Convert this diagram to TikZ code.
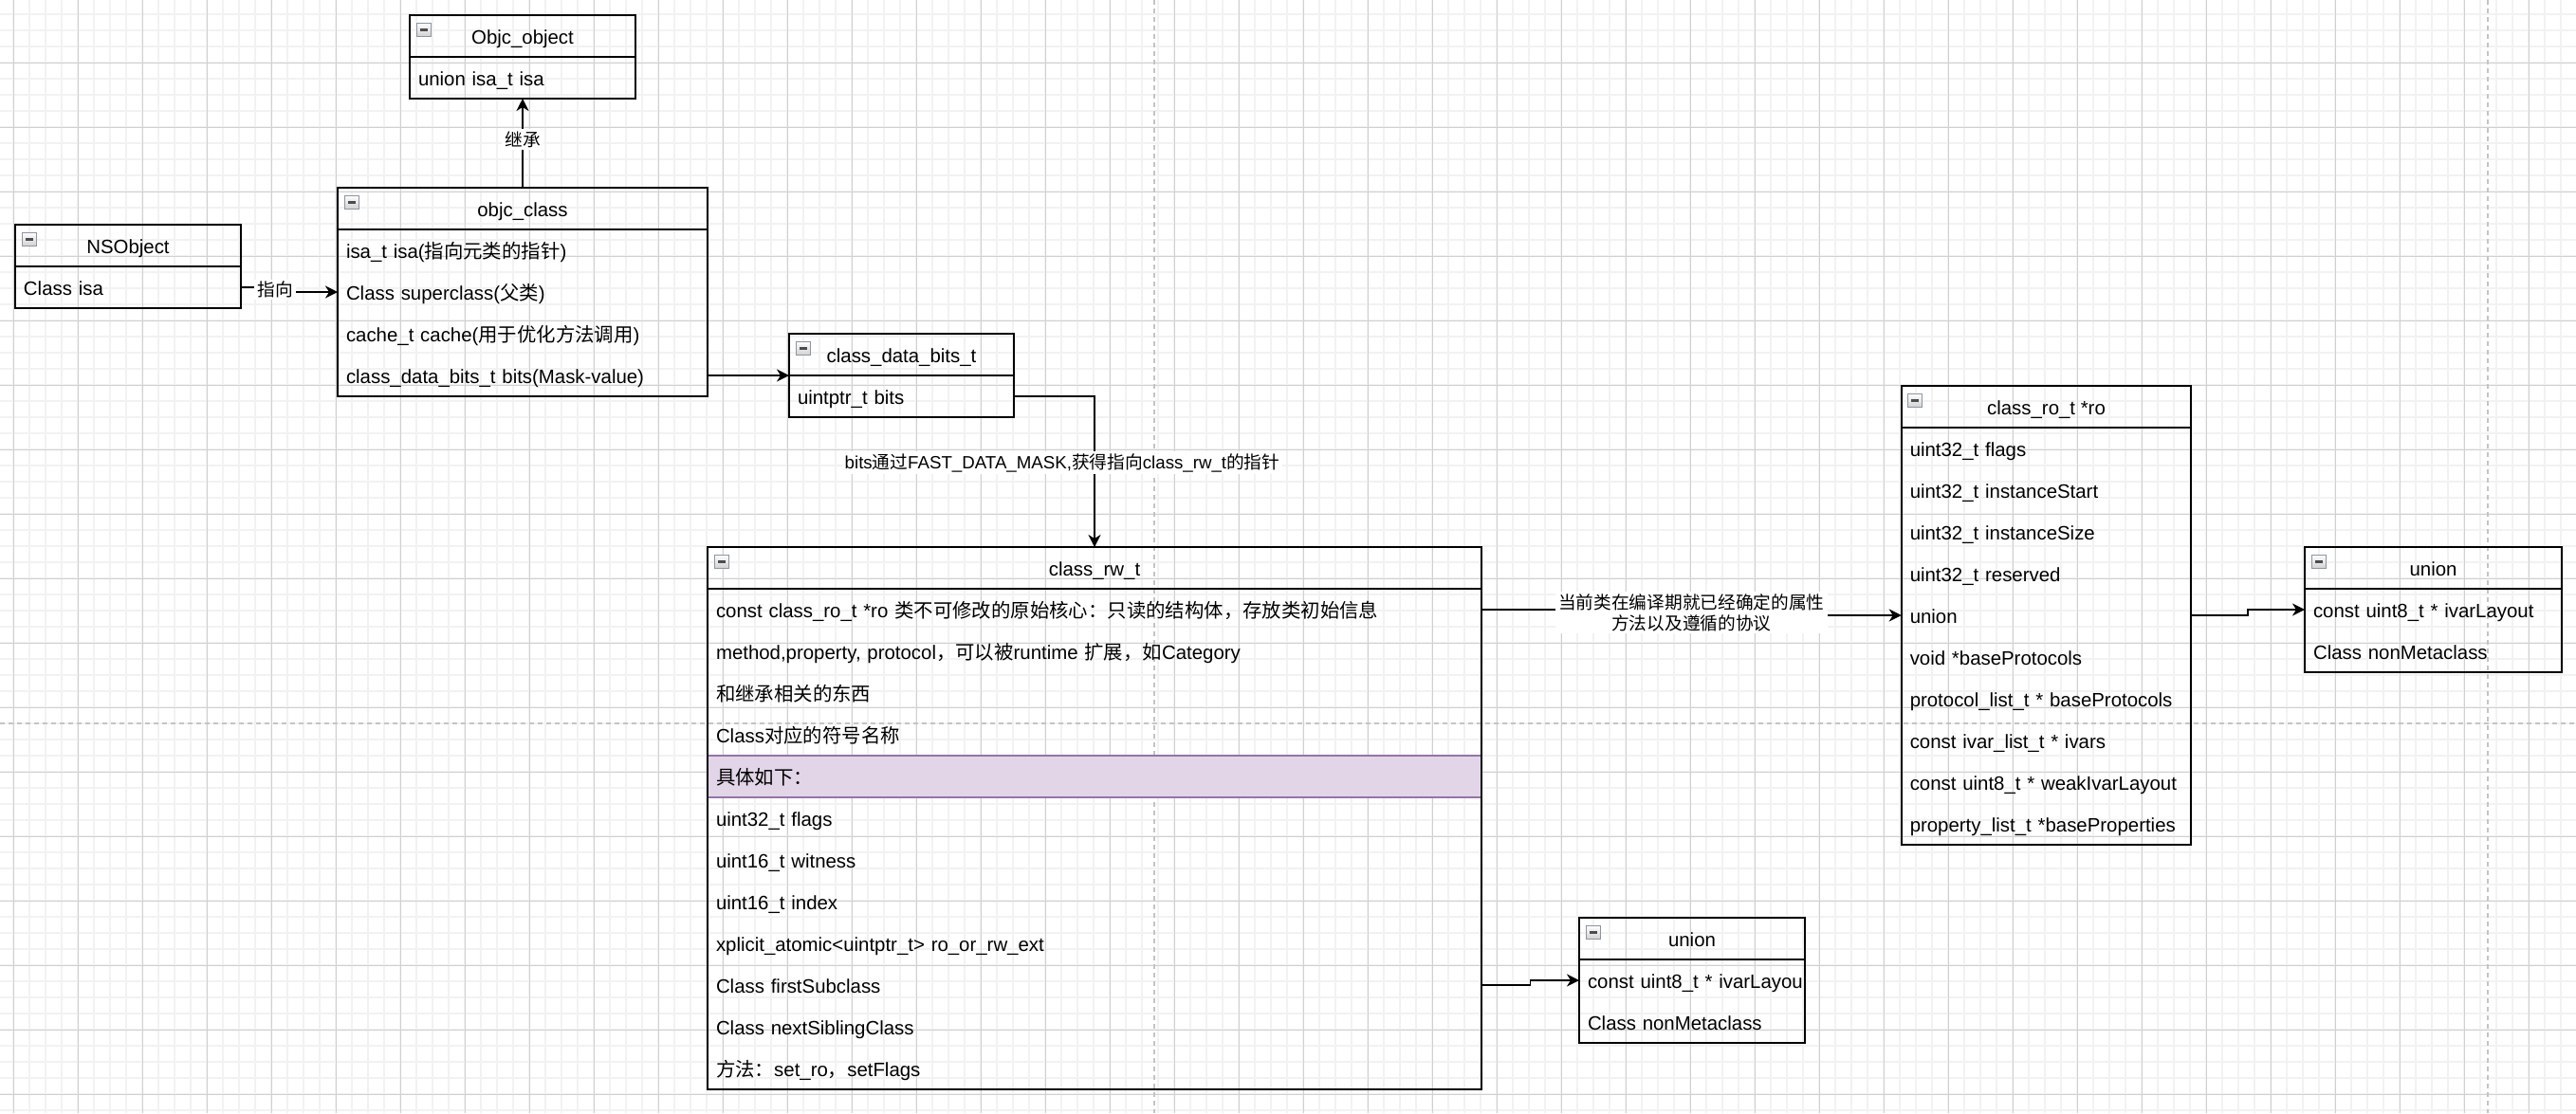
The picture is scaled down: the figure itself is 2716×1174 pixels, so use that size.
\documentclass[tikz,border=0pt]{standalone}
\usepackage{fontspec}
\setmainfont{Liberation Sans}
\newfontfamily\zhfont{Noto Sans CJK SC}
\newcommand\zh[1]{{\zhfont #1}}
\usepackage{tikz}
\usetikzlibrary{calc,positioning,arrows.meta}
\definecolor{gridminor}{HTML}{F2F2F2}
\definecolor{gridmajor}{HTML}{D0D0D0}
\definecolor{pagebreak}{HTML}{C4C4C4}
\definecolor{hlfill}{HTML}{E1D5E7}
\definecolor{hldraw}{HTML}{9673A6}
\definecolor{iconedge}{HTML}{8C96A0}

\begin{document}
\begin{tikzpicture}[x=0.5pt,y=-0.5pt,
    every node/.style={font=\fontsize{10.2}{12.5}\selectfont,outer sep=0pt,inner sep=0pt},
    hdr/.style={draw,line width=1pt,minimum width=#1,minimum height=22pt,text height=9pt,text depth=1pt},
    fld/.style={minimum height=22pt,inner xsep=4.5pt,text width=#1,align=left,text height=9pt,text depth=1pt},
    boxline/.style={draw,line width=1pt},
    link/.style={draw,line width=0.9pt,-{Stealth[length=6.5pt,width=6.5pt,inset=2pt]}},
    lbl/.style={fill=white,inner xsep=1.5pt,inner ysep=1pt,align=center,font=\fontsize{9.35}{11}\selectfont},
    icon/.style={draw=iconedge,line width=0.5pt,top color=white,bottom color=gray!35}]
    \useasboundingbox (0,0) rectangle (2716,1174);
    \fill[white] (0,0) rectangle (2716,1174);
    \foreach \x in {14,31,...,2716} \draw[gridminor,line width=1pt] (\x,0) -- (\x,1174);
    \foreach \y in {15,32,...,1174} \draw[gridminor,line width=1pt] (0,\y) -- (2716,\y);
    \foreach \x in {14,82,...,2716} \draw[gridmajor,line width=0.5pt] (\x,0) -- (\x,1174);
    \foreach \y in {66,134,...,1174} \draw[gridmajor,line width=0.5pt] (0,\y) -- (2716,\y);
    \draw[pagebreak,line width=1pt,dash pattern=on 2.5pt off 2pt] (1217,0) -- (1217,1174) (2623,0) -- (2623,1174) (0,763) -- (2716,763);

    \node[hdr=119pt] (objobj) at (551,38) {Objc\_object};
    \node[fld=110pt,below=0pt of objobj] (objobj-1) {union isa\_t isa};
    \draw[boxline] (objobj.north west) rectangle (objobj-1.south east);

    \node[hdr=119pt] (nsobj) at (135,259) {NSObject};
    \node[fld=110pt,below=0pt of nsobj] (nsobj-1) {Class isa};
    \draw[boxline] (nsobj.north west) rectangle (nsobj-1.south east);

    \node[hdr=195pt,alias=ocls-0] (ocls) at (551,220) {objc\_class};
    \foreach \t [count=\i,remember=\i as \j (initially 0)] in {%
      {isa\_t isa(\zh{指向元类的指针})},
      {Class superclass(\zh{父类})},
      {cache\_t cache(\zh{用于优化方法调用})},
      {class\_data\_bits\_t bits(Mask-value)}%
    } {
      \node[fld=186pt,below=0pt of ocls-\j] (ocls-\i) {\t};
    }
    \draw[boxline] (ocls.north west) rectangle (ocls-4.south east);

    \node[hdr=118.5pt] (cdb) at (950.5,374) {class\_data\_bits\_t};
    \node[fld=109.5pt,below=0pt of cdb] (cdb-1) {uintptr\_t bits};
    \draw[boxline] (cdb.north west) rectangle (cdb-1.south east);

    \node[hdr=408pt,alias=rw-0] (rw) at (1154,599) {class\_rw\_t};
    \foreach \t [count=\i,remember=\i as \j (initially 0)] in {%
      {const class\_ro\_t *ro \zh{类不可修改的原始核心：只读的结构体，存放类初始信息}},
      {method,property, protocol\zh{，可以被}runtime \zh{扩展，如}Category},
      {\zh{和继承相关的东西}},
      {Class\zh{对应的符号名称}}%
    } {
      \node[fld=399pt,below=0pt of rw-\j] (rw-\i) {\t};
    }
    \node[fld=399pt,fill=hlfill,draw=hldraw,line width=1pt,below=0pt of rw-4] (rw-5) {\zh{具体如下：}};
    \foreach \t [count=\i from 6,remember=\i as \j (initially 5)] in {%
      {uint32\_t flags},
      {uint16\_t witness},
      {uint16\_t index},
      {xplicit\_atomic<uintptr\_t> ro\_or\_rw\_ext},
      {Class firstSubclass},
      {Class nextSiblingClass},
      {\zh{方法：}set\_ro\zh{，}setFlags}%
    } {
      \node[fld=399pt,below=0pt of rw-\j] (rw-\i) {\t};
    }
    \draw[boxline] (rw.north west) rectangle (rw-12.south east);

    \node[hdr=152.75pt,alias=ro-0] (ro) at (2157.5,429) {class\_ro\_t *ro};
    \foreach \t [count=\i,remember=\i as \j (initially 0)] in {%
      {uint32\_t flags},
      {uint32\_t instanceStart},
      {uint32\_t instanceSize},
      {uint32\_t reserved},
      {union},
      {void *baseProtocols},
      {protocol\_list\_t * baseProtocols},
      {const ivar\_list\_t * ivars},
      {const uint8\_t * weakIvarLayout},
      {property\_list\_t *baseProperties}%
    } {
      \node[fld=143.75pt,below=0pt of ro-\j] (ro-\i) {\t};
    }
    \draw[boxline] (ro.north west) rectangle (ro-10.south east);

    \node[hdr=135.5pt,alias=un1-0] (un1) at (2565.5,599) {union};
    \foreach \t [count=\i,remember=\i as \j (initially 0)] in {{const uint8\_t * ivarLayout},{Class nonMetaclass}} {
      \node[fld=126.5pt,below=0pt of un1-\j] (un1-\i) {\t};
    }
    \draw[boxline] (un1.north west) rectangle (un1-2.south east);

    \node[hdr=119pt,alias=un2-0] (un2) at (1784,990) {union};
    \foreach \t [count=\i,remember=\i as \j (initially 0)] in {{\mbox{const uint8\_t * ivarLayou}},{Class nonMetaclass}} {
      \node[fld=110pt,below=0pt of un2-\j] (un2-\i) {\t};
    }
    \draw[boxline] (un2.north west) rectangle (un2-2.south east);

    \foreach \n in {objobj,nsobj,ocls,cdb,rw,ro,un1,un2} {
      \draw[icon] ($(\n.north west)+(7,8)$) rectangle ++(15,14);
      \fill[black!70] ($(\n.north west)+(10.5,13.5)$) rectangle ++(8,3);
    }

    \draw[link] (ocls.north) -- (objobj-1.south) node[lbl,midway,yshift=2pt] (inhLbl) {\zh{继承}};
    \draw[link] (nsobj-1.east) -| ($(nsobj-1.east)!.5!(ocls-2.west)$) node[lbl,xshift=-7.5pt] (ptLbl) {\zh{指向}} |- (ocls-2.west);
    \draw[link] (ocls-4.east) -- (ocls-4.east -| cdb.west);
    \draw[link] (cdb-1.east) -| (rw.north);
    \node[lbl] (maskLbl) at (1120,488) {bits\zh{通过}FAST\_DATA\_MASK,\zh{获得指向}class\_rw\_t\zh{的指针}};
    \draw[link] (rw-1.east) -| ($(rw-1.east)!.5!(ro-5.west)$) node[lbl] (roLbl) {\zh{当前类在编译期就已经确定的属性}\\\zh{方法以及遵循的协议}} |- (ro-5.west);
    \draw[link] (ro-5.east) -| ($(ro-5.east)!.5!(un1-1.west)$) |- (un1-1.west);
    \draw[link] (rw-10.east) -| ($(rw-10.east)!.5!(un2-1.west)$) |- (un2-1.west);
\end{tikzpicture}
\end{document}
